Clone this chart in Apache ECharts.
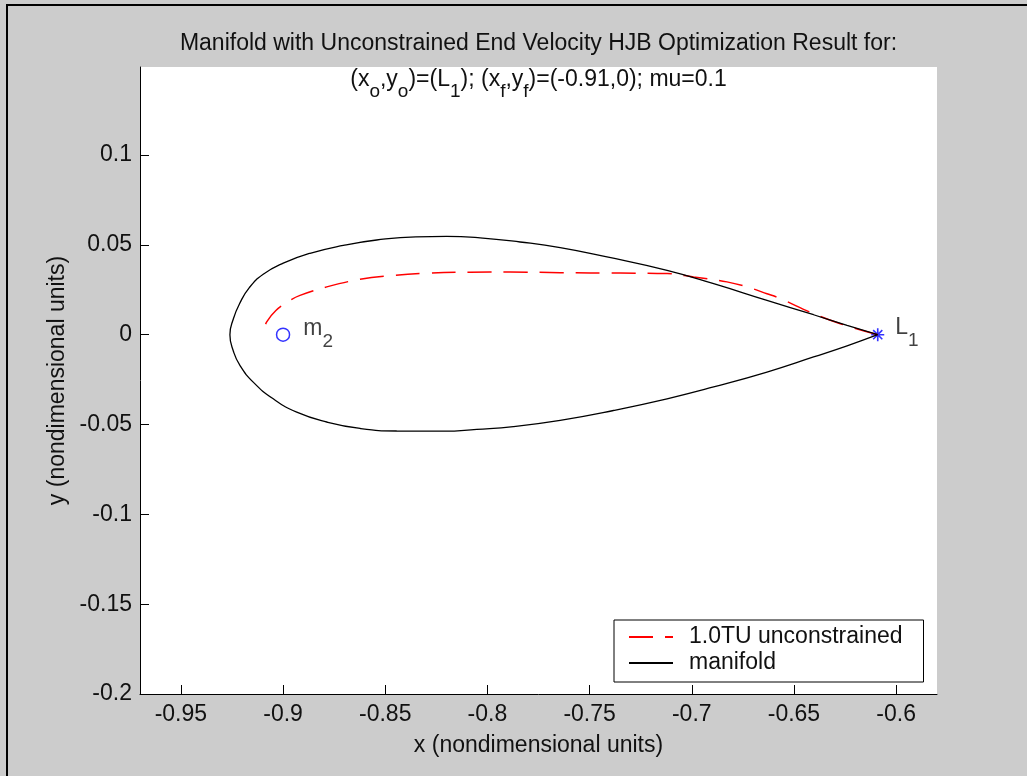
<!DOCTYPE html>
<html>
<head>
<meta charset="utf-8">
<script src="https://cdn.jsdelivr.net/npm/echarts@6/dist/echarts.min.js"></script>
<style>
  html, body { margin: 0; padding: 0; background: #cccccc; }
  #chart { width: 1027px; height: 776px; }
</style>
</head>
<body>
<div id="chart"></div>
<script>
// Tick values shown on each axis
const xTicks = [-0.95, -0.9, -0.85, -0.8, -0.75, -0.7, -0.65, -0.6];
const yTicks = [-0.2, -0.15, -0.1, -0.05, 0, 0.05, 0.1];

// Manifold: closed loop starting and ending at L1 (upper branch, then lower branch)
const manifoldX = [-0.609, -0.624, -0.6404, -0.6632, -0.6893, -0.7121, -0.7415, -0.7644, -0.784, -0.8036,
  -0.82, -0.835, -0.8542, -0.8705, -0.8868, -0.8999, -0.9097, -0.9165, -0.9213, -0.9243, -0.926,
  -0.9243, -0.9211, -0.9146, -0.9048, -0.8933, -0.8786, -0.8623, -0.8444, -0.8215, -0.8052, -0.7873,
  -0.7644, -0.7383, -0.7121, -0.6893, -0.6632, -0.6404, -0.624, -0.609];
const manifoldY = [0, 0.0052, 0.0111, 0.0191, 0.0284, 0.0358, 0.0433, 0.0485, 0.0516, 0.0539,
  0.0547, 0.0545, 0.0527, 0.0497, 0.0453, 0.0398, 0.0336, 0.0262, 0.0172, 0.0089, 0,
  -0.0092, -0.0171, -0.0264, -0.0357, -0.0431, -0.0486, -0.0522, -0.0536, -0.0537, -0.0527, -0.0512,
  -0.0477, -0.0422, -0.0357, -0.0291, -0.0208, -0.0124, -0.0062, 0];

// 1.0 TU unconstrained trajectory from L1 to the end point
const trajX = [-0.609, -0.6273, -0.6404, -0.6567, -0.6632, -0.673, -0.6828, -0.6991, -0.7121, -0.735,
  -0.7644, -0.7889, -0.8085, -0.8297, -0.846, -0.8623, -0.8786, -0.8917, -0.8966, -0.9035, -0.908, -0.91];
const trajY = [0, 0.0061, 0.0117, 0.0201, 0.0228, 0.0266, 0.0294, 0.0321, 0.034, 0.0343,
  0.0345, 0.0349, 0.0348, 0.0342, 0.033, 0.0308, 0.0266, 0.0219, 0.0191, 0.0135, 0.0071, 0.001];

// Primary m2 and Lagrange point L1
const m2Point = [-0.9, 0];
const l1Point = [-0.609, 0];

const FONT = 'Liberation Sans, Arial, Helvetica, sans-serif';
const TXT = '#111';

const pairs = (xs, ys) => xs.map((x, i) => [x, ys[i]]);
const fmt = v => String(+v.toFixed(2));

// asterisk marker drawn as thin bars
const starPath = 'path://M10.5,0L13.5,0L13.5,24L10.5,24Z M0,10.5L24,10.5L24,13.5L0,13.5Z ' +
  'M4.6,2.5L21.5,19.4L19.4,21.5L2.5,4.6Z M19.4,2.5L21.5,4.6L4.6,21.5L2.5,19.4Z';

const subRich = {
  b: { fontSize: 23, fontFamily: FONT, color: TXT },
  s: { fontSize: 19, fontFamily: FONT, color: TXT, padding: [27, 0, 0, 0] }
};

const chart = echarts.init(document.getElementById('chart'), null, { renderer: 'canvas' });
chart.setOption({
  animation: false,
  backgroundColor: '#cccccc',
  title: [
    {
      text: 'Manifold with Unconstrained End Velocity HJB Optimization Result for:',
      left: 538.5, top: 32, textAlign: 'center', padding: 0,
      textStyle: { fontSize: 23, fontWeight: 'normal', fontFamily: FONT, color: TXT }
    },
    {
      text: '(x{s|o},y{s|o})=(L{s|1}); (x{s|f},y{s|f})=(-0.91,0); mu=0.1',
      left: 538.5, top: 58, textAlign: 'center', padding: 0,
      textStyle: {
        fontSize: 23, fontWeight: 'normal', fontFamily: FONT, color: TXT,
        rich: { s: { fontSize: 19, fontFamily: FONT, color: TXT, padding: [24, 0, 0, 0] } }
      }
    }
  ],
  graphic: [
    { type: 'rect', shape: { x: 6, y: 4, width: 2, height: 772 }, style: { fill: '#000' }, silent: true },
    { type: 'rect', shape: { x: 6, y: 4, width: 1021, height: 2 }, style: { fill: '#000' }, silent: true }
  ],
  grid: {
    left: 140, right: 90, top: 67, bottom: 82,
    show: true, backgroundColor: '#ffffff', borderWidth: 0
  },
  legend: {
    data: ['1.0TU unconstrained', 'manifold'],
    orient: 'vertical',
    left: 614, top: 620,
    padding: [5, 21, 7, 14],
    itemWidth: 44, itemHeight: 14, itemGap: 2,
    itemStyle: { opacity: 0 },
    backgroundColor: '#ffffff', borderColor: '#000', borderWidth: 1,
    selectedMode: false,
    textStyle: { fontSize: 23, fontFamily: FONT, color: TXT, lineHeight: 24, padding: [0, 0, 0, 11] }
  },
  xAxis: {
    type: 'value', min: -0.97, max: -0.58,
    name: 'x (nondimensional units)', nameLocation: 'middle', nameGap: 40,
    nameTextStyle: { fontSize: 23, fontFamily: FONT, color: TXT },
    axisLine: { show: true, onZero: false, lineStyle: { color: '#000', width: 1 } },
    axisTick: { show: true, inside: true, length: 9, customValues: xTicks, lineStyle: { color: '#000' } },
    axisLabel: { customValues: xTicks, formatter: fmt, margin: 9, fontSize: 23, fontFamily: FONT, color: TXT },
    splitLine: { show: false }
  },
  yAxis: {
    type: 'value', min: -0.2, max: 0.149,
    name: 'y (nondimensional units)', nameLocation: 'middle', nameGap: 64,
    nameTextStyle: { fontSize: 23, fontFamily: FONT, color: TXT },
    axisLine: { show: true, onZero: false, lineStyle: { color: '#000', width: 1 } },
    axisTick: { show: true, inside: true, length: 9, customValues: yTicks, lineStyle: { color: '#000' } },
    axisLabel: { customValues: yTicks, formatter: fmt, margin: 8, fontSize: 23, fontFamily: FONT, color: TXT },
    splitLine: { show: false }
  },
  series: [
    {
      name: '1.0TU unconstrained', type: 'line',
      data: pairs(trajX, trajY),
      symbol: 'none', smooth: 0.4,
      lineStyle: { color: '#ff0000', width: 1.5, type: [24, 12] },
      itemStyle: { color: '#ff0000' }
    },
    {
      name: 'manifold', type: 'line',
      data: pairs(manifoldX, manifoldY),
      symbol: 'none', smooth: 0.5,
      lineStyle: { color: '#000000', width: 1.3 },
      itemStyle: { color: '#000000' }
    },
    {
      name: 'm2', type: 'scatter',
      data: [m2Point],
      symbol: 'circle', symbolSize: 13,
      itemStyle: { color: 'rgba(0,0,0,0)', borderColor: '#0000ff', borderWidth: 1.5 },
      label: {
        show: true, position: 'right', distance: 13, offset: [0, -6],
        formatter: '{b|m}{s|2}', rich: subRich
      }
    },
    {
      name: 'L1', type: 'scatter',
      data: [l1Point],
      symbol: starPath, symbolSize: 13,
      itemStyle: { color: '#0000ff' },
      label: {
        show: true, position: 'right', distance: 11, offset: [0, -7],
        formatter: '{b|L}{s|1}', rich: subRich
      }
    }
  ]
});
</script>
</body>
</html>
